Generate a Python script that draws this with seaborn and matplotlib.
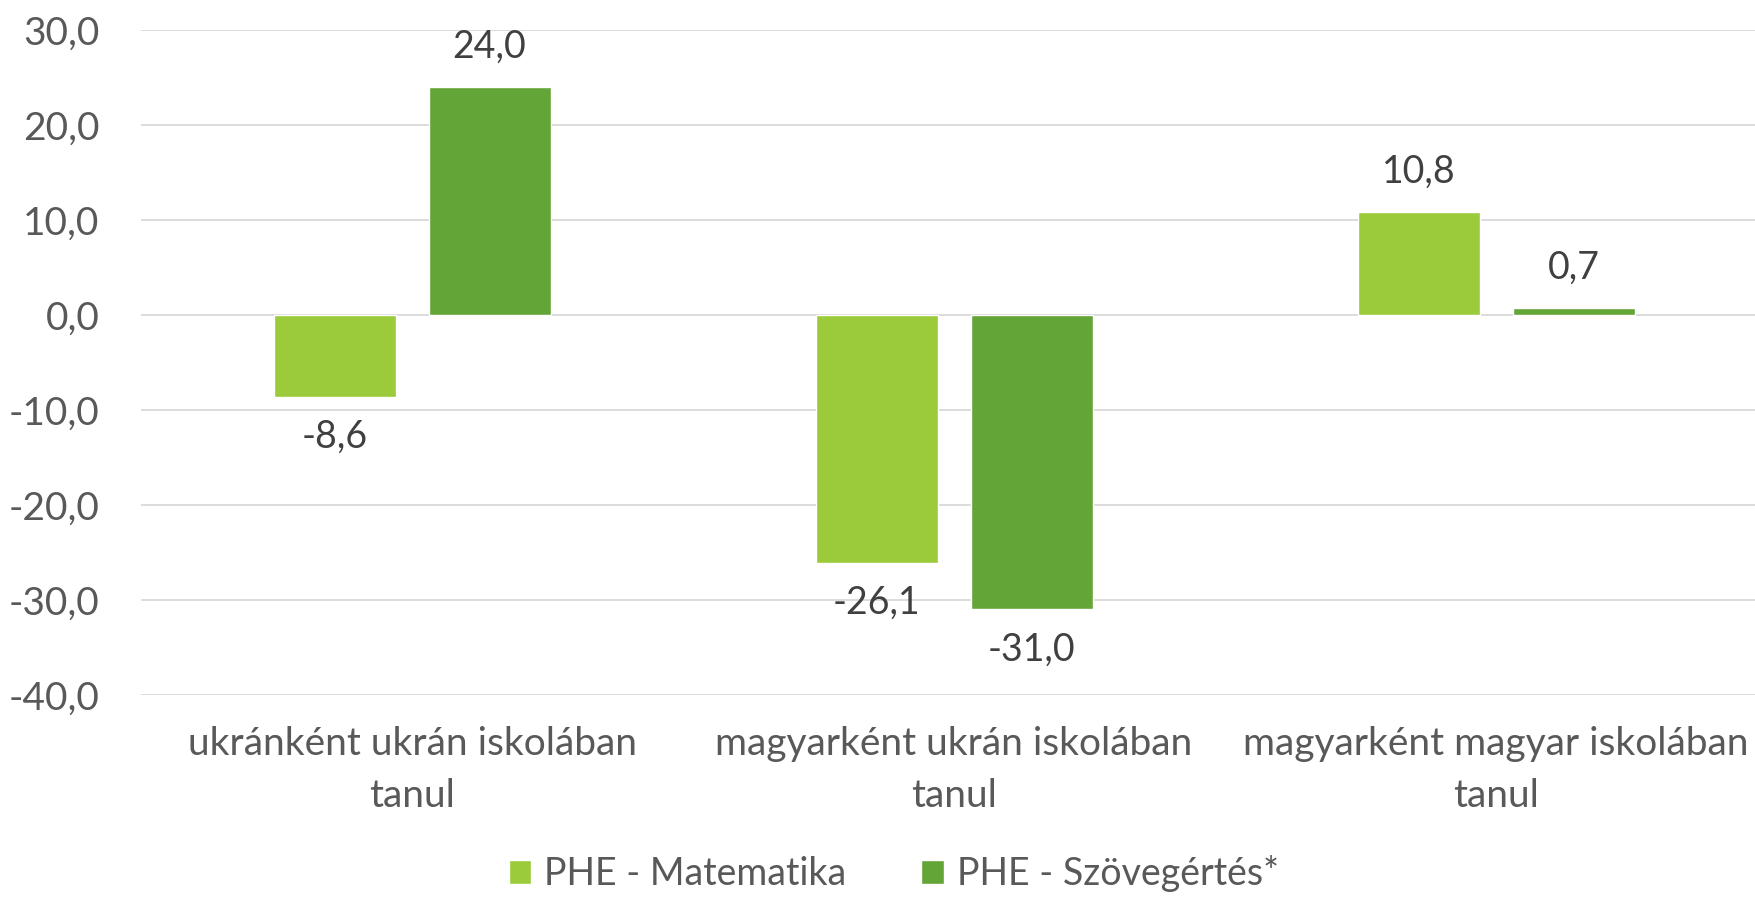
import pandas as pd
import matplotlib
matplotlib.use('Agg')
import matplotlib.pyplot as plt
import seaborn as sns
from matplotlib.patches import Patch
from matplotlib.ticker import FuncFormatter

# Data
categories = ['ukránként ukrán iskolában\ntanul',
              'magyarként ukrán iskolában\ntanul',
              'magyarként magyar iskolában\ntanul']
series = ['PHE - Matematika', 'PHE - Szövegértés*']
matematika = [-8.6, -26.1, 10.8]
szovegertes = [24.0, -31.0, 0.7]
colors = ['#9BCB3A', '#63A537']

data = pd.DataFrame({
    'Kategoria': categories * 2,
    'Sorozat': [series[0]] * 3 + [series[1]] * 3,
    'Ertek': matematika + szovegertes,
})

sns.set_style('white')
plt.rcParams['font.family'] = ['Lato', 'DejaVu Sans']

fig = plt.figure(figsize=(17.56, 8.97), dpi=100)
ax = fig.add_axes([0.0803, 0.2252, 0.926, 0.7414])

sns.barplot(data=data, x='Kategoria', y='Ertek', hue='Sorozat',
            palette=colors, saturation=1, width=0.572, gap=0.213, ax=ax,
            legend=False, zorder=3)

ax.set_ylim(-40, 30)
ax.set_yticks(range(-40, 31, 10))
ax.yaxis.set_major_formatter(FuncFormatter(lambda v, p: f'{v:.1f}'.replace('.', ',')))
ax.grid(axis='y', color='#D9D9D9', linewidth=1.3, zorder=0)
ax.set_axisbelow(True)
for s in ax.spines.values():
    s.set_visible(False)
ax.set_xlabel('')
ax.set_ylabel('')
ax.tick_params(axis='both', length=0, labelsize=28, labelcolor='#595959')
ax.tick_params(axis='y', pad=30)
ax.tick_params(axis='x', pad=22)
for t in ax.get_xticklabels():
    t.set_linespacing(1.55)

# data labels
for cont, vals in zip(ax.containers, [matematika, szovegertes]):
    ax.bar_label(cont, labels=[f'{v:.1f}'.replace('.', ',') for v in vals],
                 padding=16, fontsize=27, color='#404040')

handles = [Patch(facecolor=c, label=s) for c, s in zip(colors, series)]
fig.legend(handles=handles, loc='center', bbox_to_anchor=(0.509, 0.026), ncol=2,
           frameon=False, fontsize=27, handlelength=0.6, handleheight=0.6,
           handletextpad=0.35, columnspacing=2.0, labelcolor='#595959')

fig.savefig('out.png', dpi=100)
